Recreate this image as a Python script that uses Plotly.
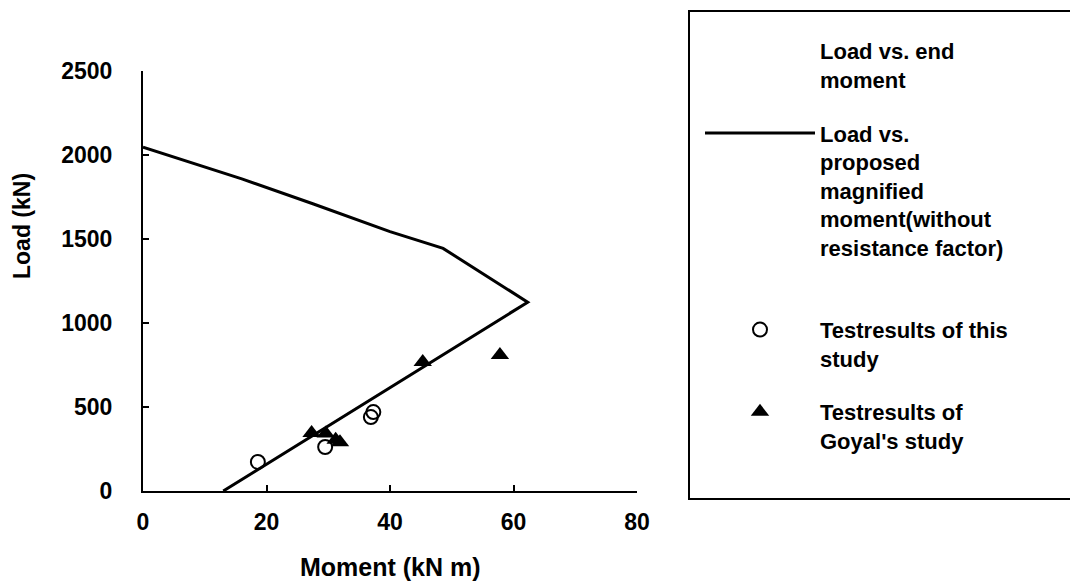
import plotly.graph_objects as go

# Proposed magnified moment curve (Load vs. moment)
curve_moment = [0, 16, 27.5, 40, 48.6, 62.3, 13]
curve_load = [2047, 1858, 1710, 1544, 1444, 1124, 0]

# Test results of this study
this_moment = [18.6, 29.5, 36.9, 37.3]
this_load = [173, 262, 440, 470]

# Test results of Goyal's study
goyal_moment = [27.3, 29.6, 31.2, 31.9, 45.3, 57.8]
goyal_load = [345, 342, 305, 290, 768, 810]

x_ticks = [0, 20, 40, 60, 80]
y_ticks = [0, 500, 1000, 1500, 2000, 2500]

FONT = "Liberation Sans, Arial, sans-serif"
W, H = 1070, 575  # page body has an 8px margin

fig = go.Figure()

fig.add_trace(go.Scatter(
    x=[None], y=[None], mode="lines",
    line=dict(color="rgba(0,0,0,0)", width=0),
    name="Load vs. end<br>moment", legendgroup="a",
))
fig.add_trace(go.Scatter(
    x=curve_moment, y=curve_load, mode="lines",
    line=dict(color="black", width=3),
    name="Load vs.<br>proposed<br>magnified<br>moment(without<br>resistance factor)<br>&nbsp;",
    legendgroup="b",
))
fig.add_trace(go.Scatter(
    x=this_moment, y=this_load, mode="markers",
    marker=dict(symbol="circle-open", size=14, color="black", line=dict(width=2)),
    name="Testresults of this<br>study", legendgroup="c",
))
fig.add_trace(go.Scatter(
    x=goyal_moment, y=goyal_load, mode="markers",
    marker=dict(symbol="triangle-up", size=16, color="black"),
    name="Testresults of<br>Goyal's study", legendgroup="d",
))

axis_common = dict(
    showline=True, linecolor="black", linewidth=2,
    ticks="inside", ticklen=6, tickwidth=1.5, tickcolor="black",
    showgrid=False, zeroline=False,
    tickfont=dict(family=FONT, size=23, color="black", weight="bold"),
)

fig.update_xaxes(range=[0, 80], tickvals=x_ticks, ticklabelstandoff=9, **axis_common)
fig.update_yaxes(range=[0, 2500], tickvals=y_ticks, ticklabelstandoff=24, **axis_common)

fig.update_layout(
    width=W, height=H, autosize=False,
    margin=dict(l=135, r=441, t=63, b=92),
    paper_bgcolor="white", plot_bgcolor="white",
    font=dict(family=FONT, color="black", weight="bold"),
    legend=dict(
        xref="container", yref="container",
        x=692 / W, y=1 - 22 / H, xanchor="left", yanchor="top",
        font=dict(family=FONT, size=22, color="black", weight="bold"),
        valign="top", itemwidth=110, tracegroupgap=22,
        traceorder="grouped", maxheight=2000,
        bgcolor="rgba(0,0,0,0)", borderwidth=0,
    ),
    annotations=[
        dict(text="Moment (kN m)", xref="paper", yref="paper", x=0.5, y=0,
             yshift=-76, xanchor="center", yanchor="middle", showarrow=False,
             font=dict(family=FONT, size=25, color="black", weight="bold")),
        dict(text="Load (kN)", xref="paper", yref="paper", x=0, y=0.631,
             xshift=-121, xanchor="center", yanchor="middle", textangle=-90,
             showarrow=False,
             font=dict(family=FONT, size=23, color="black", weight="bold")),
    ],
    shapes=[
        dict(type="rect", xref="paper", yref="paper",
             x0=(689 - 143) / 494, x1=(1074 - 143) / 494,
             y0=(491 - 499) / 420, y1=(491 - 11) / 420,
             line=dict(color="black", width=2), fillcolor="rgba(0,0,0,0)"),
    ],
)

fig.write_html("out.html")
